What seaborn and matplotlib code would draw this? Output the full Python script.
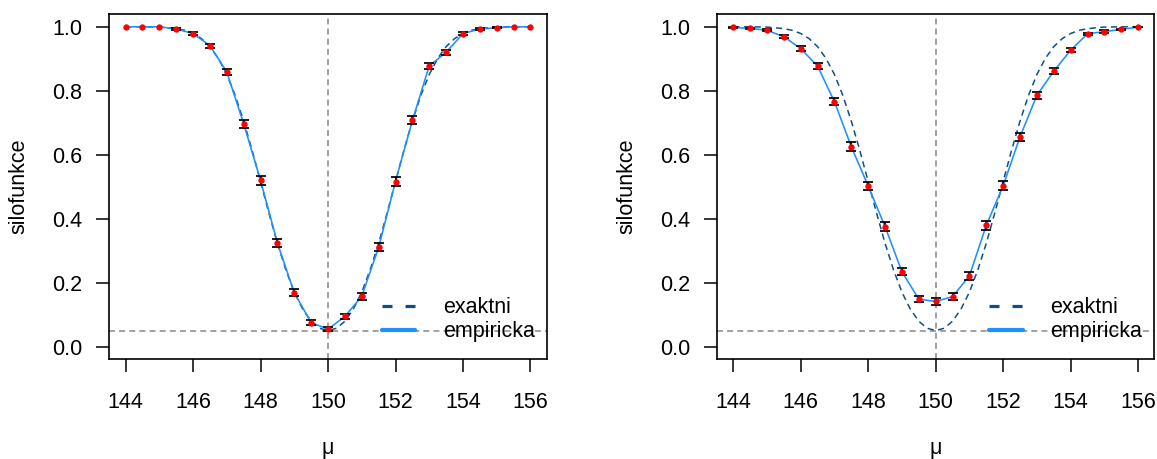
import matplotlib
matplotlib.use("Agg")
import matplotlib.pyplot as plt
import seaborn as sns
import pandas as pd
from matplotlib.lines import Line2D

# ---------------------------------------------------------------
# Data (power function of a two-sided test,
# H0: mu = 150, alpha = 0.05)
# ---------------------------------------------------------------
MU0 = 150
ALPHA = 0.05

# exact power function, fine grid
MU_GRID = [144.0, 144.25, 144.5, 144.75, 145.0, 145.25, 145.5, 145.75,
           146.0, 146.25, 146.5, 146.75, 147.0, 147.25, 147.5, 147.75,
           148.0, 148.25, 148.5, 148.75, 149.0, 149.25, 149.5, 149.75,
           150.0, 150.25, 150.5, 150.75, 151.0, 151.25, 151.5, 151.75,
           152.0, 152.25, 152.5, 152.75, 153.0, 153.25, 153.5, 153.75,
           154.0, 154.25, 154.5, 154.75, 155.0, 155.25, 155.5, 155.75, 156.0]
EXACT = [1.000, 1.000, 1.000, 0.9995, 0.999, 0.997, 0.994, 0.989,
         0.979, 0.963, 0.938, 0.901, 0.851, 0.785, 0.705, 0.614,
         0.516, 0.417, 0.323, 0.240, 0.170, 0.117, 0.079, 0.057,
         0.050, 0.057, 0.079, 0.117, 0.170, 0.240, 0.323, 0.417,
         0.516, 0.614, 0.705, 0.785, 0.851, 0.901, 0.938, 0.963,
         0.979, 0.989, 0.994, 0.997, 0.999, 0.9995, 1.000, 1.000, 1.000]

# simulated (empirical) power
MU_SIM = [144.0, 144.5, 145.0, 145.5, 146.0, 146.5, 147.0, 147.5, 148.0,
          148.5, 149.0, 149.5, 150.0, 150.5, 151.0, 151.5, 152.0, 152.5,
          153.0, 153.5, 154.0, 154.5, 155.0, 155.5, 156.0]

EMP_LEFT = [1.000, 1.000, 1.000, 0.993, 0.979, 0.941, 0.859, 0.697, 0.520,
            0.324, 0.168, 0.075, 0.054, 0.094, 0.157, 0.310, 0.516, 0.707,
            0.878, 0.920, 0.979, 0.993, 0.997, 1.000, 1.000]
ERR_LEFT = [0.0, 0.0, 0.0, 0.0023, 0.0040, 0.0066, 0.0097, 0.0128, 0.0139,
            0.0130, 0.0104, 0.0073, 0.0063, 0.0081, 0.0101, 0.0128, 0.0139,
            0.0126, 0.0091, 0.0075, 0.0040, 0.0023, 0.0015, 0.0, 0.0]

EMP_RIGHT = [0.998, 0.995, 0.989, 0.969, 0.932, 0.877, 0.766, 0.625, 0.502,
             0.375, 0.234, 0.148, 0.141, 0.156, 0.221, 0.379, 0.503, 0.656,
             0.786, 0.861, 0.927, 0.978, 0.985, 0.992, 0.999]
ERR_RIGHT = [0.0012, 0.0020, 0.0029, 0.0048, 0.0070, 0.0091, 0.0117, 0.0134, 0.0139,
             0.0134, 0.0117, 0.0098, 0.0096, 0.0101, 0.0115, 0.0134, 0.0139, 0.0132,
             0.0114, 0.0096, 0.0072, 0.0041, 0.0034, 0.0025, 0.0009]

X_TICKS = [144, 146, 148, 150, 152, 154, 156]
Y_TICKS = [0.0, 0.2, 0.4, 0.6, 0.8, 1.0]
Y_TICKLABELS = ["0.0", "0.2", "0.4", "0.6", "0.8", "1.0"]

LEGEND_LABELS = ["exaktni", "empiricka"]
X_LABEL = "\u03bc"
Y_LABEL = "silofunkce"

# colours
C_EXACT = "#104E8B"   # dodgerblue4
C_EMP = "#1E90FF"     # dodgerblue
C_REF = "#9a9a9a"
C_TXT = "black"

# ---------------------------------------------------------------
# Style
# ---------------------------------------------------------------
sns.set_theme(style="white")
plt.rcParams["font.family"] = ["Liberation Sans", "DejaVu Sans"]
plt.rcParams["lines.scale_dashes"] = False
FS = 15.5


def draw_panel(ax, emp, err):
    exact_df = pd.DataFrame({"mu": MU_GRID, "power": EXACT})
    emp_df = pd.DataFrame({"mu": MU_SIM, "power": emp, "err": err})

    # reference lines
    ax.axhline(ALPHA, color=C_REF, lw=1.3, linestyle=(0, (4.3, 3.0)), zorder=1)
    ax.axvline(MU0, color=C_REF, lw=1.3, linestyle=(0, (4.3, 3.0)), zorder=1)

    # exact curve
    sns.lineplot(data=exact_df, x="mu", y="power", ax=ax, color=C_EXACT,
                 lw=1.1, linestyle=(0, (4.5, 3.2)), errorbar=None, zorder=2)
    # empirical curve
    sns.lineplot(data=emp_df, x="mu", y="power", ax=ax, color=C_EMP,
                 lw=1.15, errorbar=None, zorder=3)

    # error bars (skip zero-length ones, like R's arrows)
    eb = emp_df[emp_df["err"] > 0]
    ax.errorbar(eb["mu"], eb["power"], yerr=eb["err"], fmt="none",
                ecolor="black", elinewidth=1.25, capsize=3.3, capthick=1.25,
                zorder=4)

    # points
    sns.scatterplot(data=emp_df, x="mu", y="power", ax=ax, color="red",
                    s=21, linewidth=0, zorder=5)

    ax.set_xlim(143.52, 156.48)
    ax.set_ylim(-0.04, 1.04)
    ax.set_xticks(X_TICKS)
    ax.set_xticklabels([str(t) for t in X_TICKS])
    ax.set_yticks(Y_TICKS)
    ax.set_yticklabels(Y_TICKLABELS)
    ax.set_xlabel("")
    ax.set_ylabel("")

    for sp in ax.spines.values():
        sp.set_visible(True)
        sp.set_color("black")
        sp.set_linewidth(1.2)

    ax.tick_params(axis="both", direction="out", length=9.4, width=1.1,
                   color="black", labelsize=FS, labelcolor=C_TXT)
    ax.tick_params(axis="x", pad=14.0, bottom=True)
    ax.tick_params(axis="y", pad=10.0, left=True)

    ax.text(-0.2064, 0.5, Y_LABEL, rotation=90, ha="center", va="center",
            fontsize=FS, transform=ax.transAxes, color=C_TXT)
    ax.text(0.5, -0.274, X_LABEL, ha="center", va="baseline",
            fontsize=FS, transform=ax.transAxes, color=C_TXT)

    handles = [
        Line2D([], [], color=C_EXACT, lw=2.3, linestyle=(0, (7.2, 9.4))),
        Line2D([], [], color=C_EMP, lw=3.0),
    ]
    ax.legend(handles, LEGEND_LABELS, loc="center left",
              bbox_to_anchor=(0.6228, 0.114), frameon=False, fontsize=FS,
              borderpad=0, borderaxespad=0, handlelength=1.55,
              handletextpad=1.29, labelspacing=0.14,
              labelcolor=C_TXT)


fig = plt.figure(figsize=(11.57, 4.59), dpi=100)
ax1 = fig.add_axes([0.0945, 0.2172, 0.3780, 0.7523])
ax2 = fig.add_axes([0.6197, 0.2172, 0.3780, 0.7523])

draw_panel(ax1, EMP_LEFT, ERR_LEFT)
draw_panel(ax2, EMP_RIGHT, ERR_RIGHT)

fig.savefig("out.png", dpi=100, facecolor="white")
